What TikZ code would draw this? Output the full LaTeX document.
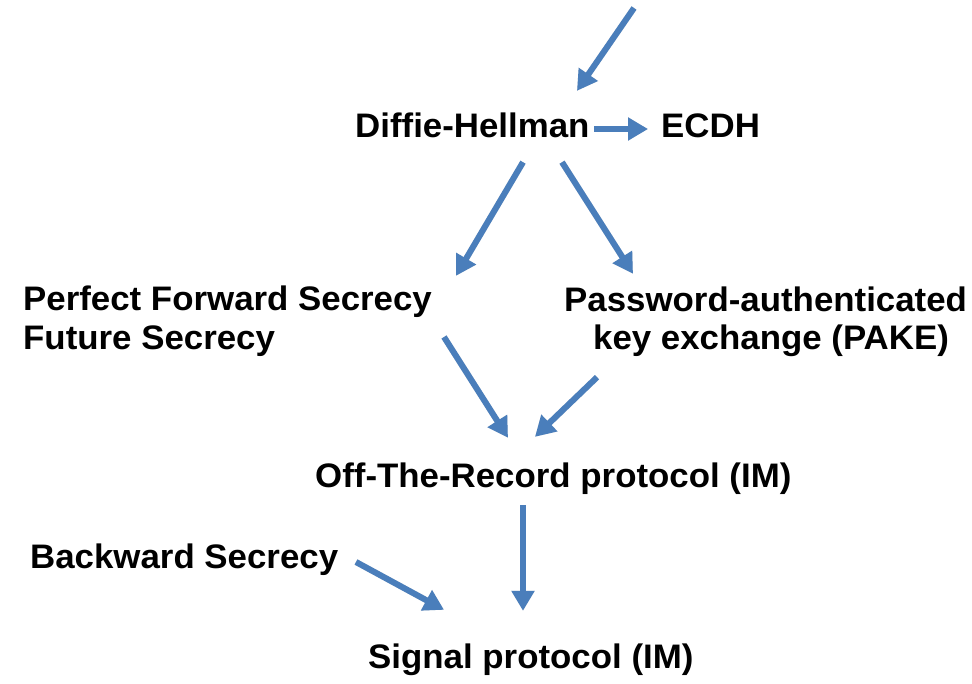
\documentclass[tikz,border=0pt]{standalone}
\usepackage{fontspec}
\setmainfont{Liberation Sans}[FakeStretch=1.025]
\usetikzlibrary{arrows.meta,calc}
\definecolor{arrblue}{HTML}{4A7EBB}
\tikzset{
  lbl/.style={anchor=base west,inner sep=0pt,text height=25pt,text depth=8pt,
    font=\fontsize{34}{39}\selectfont\bfseries,text=black},
  arr/.style={draw=arrblue,line width=6pt,-{Triangle[length=20pt,width=22pt]}},
  arrshadow/.style={draw=black!35,opacity=0.35,line width=6pt,-{Triangle[length=20pt,width=22pt]},shift={(1.5,2)}}
}
\begin{document}
\begin{tikzpicture}[x=1pt,y=-1pt]
\useasboundingbox[fill=white] (0,0) rectangle (972,683);
\node[lbl] (dh) at (355,137) {Diffie-Hellman};
\node[lbl] (ecdh) at (661,137) {ECDH};
\node[lbl] (pfs) at (23,310) {Perfect Forward Secrecy};
\node[lbl] (pfs2) at (23,349) {Future Secrecy};
\node[lbl] (pake) at (564,311) {Password-authenticated};
\node[lbl] (pake2) at (593,349) {key exchange (PAKE)};
\node[lbl] (otr) at (315,487) {Off-The-Record protocol (IM)};
\node[lbl] (bs) at (30,568) {Backward Secrecy};
\node[lbl] (sig) at (368,668) {Signal protocol (IM)};
\coordinate (src) at (634,8);
\foreach \s in {arrshadow,arr}{
  \draw[\s] (src) -- ($(dh.north west)+(222,-21)$);
  \draw[\s] ($(dh.base west)+(239,-8)$) -- ($(ecdh.base west)+(-13,-8)$);
  \draw[\s] ($(dh.south west)+(168,17)$) -- ($(pfs.north west)+(433,-9)$);
  \draw[\s] ($(dh.south west)+(207,17)$) -- ($(pake.north west)+(69,-12)$);
  \draw[\s] ($(pfs2.base west)+(421,-12)$) -- ($(otr.north west)+(193,-24)$);
  \draw[\s] ($(pake2.south west)+(4,20)$) -- ($(otr.north west)+(220,-25)$);
  \draw[\s] ($(otr.south west)+(208,10)$) -- ($(sig.north west)+(155,-32)$);
  \draw[\s] ($(bs.base west)+(326,-6)$) -- ($(sig.north west)+(76,-33)$);
}
\end{tikzpicture}
\end{document}
